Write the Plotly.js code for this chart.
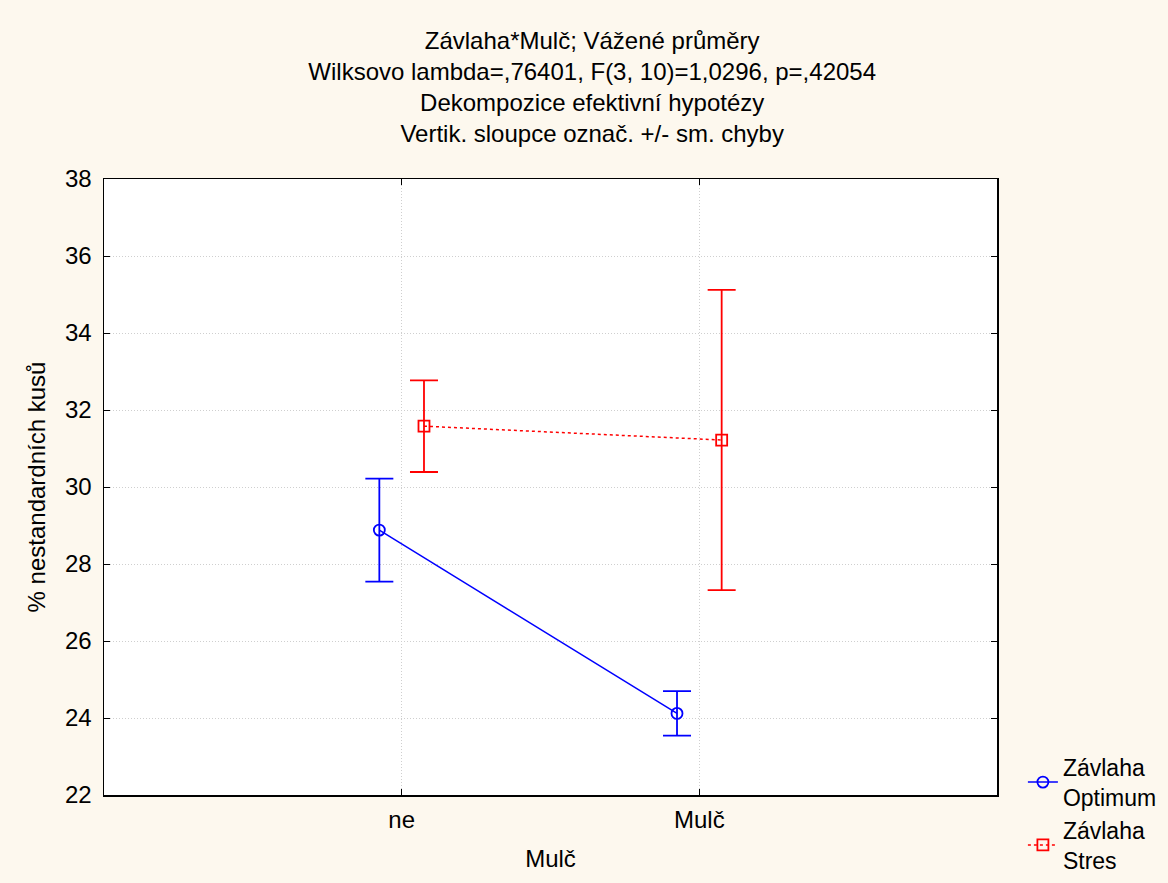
<!DOCTYPE html>
<html>
<head>
<meta charset="utf-8">
<script src="https://cdn.plot.ly/plotly-3.0.1.min.js"></script>
<style>html,body{margin:0;padding:0;background:#fdf8ee;}</style>
</head>
<body>
<div id="chart" style="width:1168px;height:883px;"></div>
<script>
const categories = ['ne', 'Mulč'];
const optimumMeans = [28.88, 24.12];
const optimumErr = [1.34, 0.58];
const stresMeans = [31.58, 31.22];
const stresErr = [1.19, 3.9];
const seriesNames = ['Závlaha<br>Optimum', 'Závlaha<br>Stres'];
const yTicks = [22, 24, 26, 28, 30, 32, 34, 36, 38];

const traces = [
  {
    x: categories, y: optimumMeans, name: seriesNames[0], type: 'scatter', mode: 'lines+markers',
    offsetgroup: 'a', alignmentgroup: 'g',
    line: {color: '#0000ff', width: 1.5},
    marker: {symbol: 'circle-open', size: 11, color: '#0000ff', line: {width: 1.8}},
    error_y: {type: 'data', array: optimumErr, visible: true, color: '#0000ff', thickness: 1.8, width: 14}
  },
  {
    x: categories, y: stresMeans, name: seriesNames[1], type: 'scatter', mode: 'lines+markers',
    offsetgroup: 'b', alignmentgroup: 'g',
    line: {color: '#ff0000', width: 1.5, dash: 'dot'},
    marker: {symbol: 'square-open', size: 11, color: '#ff0000', line: {width: 1.8}},
    error_y: {type: 'data', array: stresErr, visible: true, color: '#ff0000', thickness: 1.8, width: 14}
  }
];

const font = 'Liberation Sans, Arial, sans-serif';
const layout = {
  width: 1168, height: 883,
  paper_bgcolor: '#fdf8ee', plot_bgcolor: '#ffffff',
  font: {family: font, color: '#000000', size: 24},
  margin: {l: 104, r: 171, t: 179, b: 88, autoexpand: false},
  scattermode: 'group', scattergap: 0.7,
  title: {
    text: 'Závlaha*Mulč; Vážené průměry<br>Wilksovo lambda=,76401, F(3, 10)=1,0296, p=,42054<br>Dekompozice efektivní hypotézy<br>Vertik. sloupce označ. +/- sm. chyby',
    font: {family: font, size: 24, color: '#000000'},
    x: 0.507, xanchor: 'center', y: 0.945, yanchor: 'top'
  },
  xaxis: {
    type: 'category', range: [-1, 2],
    title: {text: 'Mulč', font: {size: 24}, standoff: 18},
    tickfont: {size: 24},
    ticklabelstandoff: 3,
    showline: true, linecolor: '#000000', linewidth: 1.5, mirror: 'ticks',
    ticks: 'inside', ticklen: 6, tickcolor: '#000000',
    showgrid: true, gridcolor: '#cfcfcf', griddash: '1px,2px', gridwidth: 1,
    zeroline: false
  },
  yaxis: {
    range: [22, 38], tickvals: yTicks,
    title: {text: '% nestandardních kusů', font: {size: 24}, standoff: 12},
    tickfont: {size: 24},
    ticklabelstandoff: 6,
    showline: true, linecolor: '#000000', linewidth: 1.5, mirror: 'ticks',
    ticks: 'inside', ticklen: 6, tickcolor: '#000000',
    showgrid: true, gridcolor: '#cfcfcf', griddash: '1px,2px', gridwidth: 1,
    zeroline: false
  },
  legend: {
    x: 1.029, xanchor: 'left', y: 0.08, yanchor: 'top',
    bgcolor: 'rgba(0,0,0,0)', font: {size: 23}, tracegroupgap: 0
  },
  showlegend: true
};

Plotly.newPlot('chart', traces, layout, {displayModeBar: false, staticPlot: true});
</script>
</body>
</html>
